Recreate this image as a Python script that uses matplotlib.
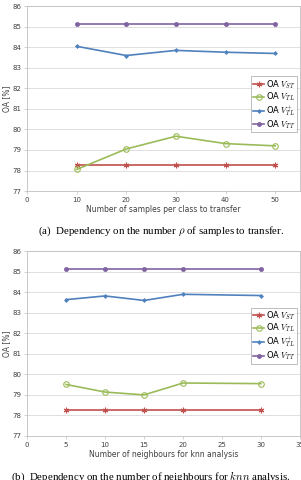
import matplotlib
matplotlib.use("Agg")
import matplotlib.pyplot as plt

plt.rcParams['mathtext.fontset'] = 'cm'

# Panel (a)
xa = [10, 20, 30, 40, 50]
a_vst = [78.27, 78.27, 78.27, 78.27, 78.27]
a_vtl = [78.05, 79.05, 79.67, 79.31, 79.2]
a_vtlp = [84.05, 83.6, 83.85, 83.76, 83.7]
a_vtt = [85.13, 85.13, 85.13, 85.13, 85.13]

# Panel (b)
xb = [5, 10, 15, 20, 30]
b_vst = [78.26, 78.26, 78.26, 78.26, 78.26]
b_vtl = [79.51, 79.14, 79.0, 79.58, 79.55]
b_vtlp = [83.64, 83.82, 83.6, 83.9, 83.84]
b_vtt = [85.13, 85.13, 85.13, 85.13, 85.13]

labels = ["OA $V_{ST}$", "OA $V_{TL}$", "OA $V_{TL}^{+}$", "OA $V_{TT}$"]
colors = ["#c0504d", "#9bbb59", "#4f81bd", "#8064a2"]
yticks = list(range(77, 87))

fig = plt.figure(figsize=(3.01, 4.80), dpi=100)

def panel(ax, x, series, xlim, xticks, xlabel, leg_anchor):
    styles = [
        dict(marker=(6, 2, 0), markersize=4, mew=0.8),
        dict(marker='o', markersize=4, mfc='none', mew=0.8),
        dict(marker='D', markersize=2, mew=0.5),
        dict(marker='o', markersize=3, mew=0.5),
    ]
    for s, lab, c, st in zip(series, labels, colors, styles):
        ax.plot(x, s, color=c, lw=1.2, label=lab, **st)
    ax.set_xlim(*xlim)
    ax.set_ylim(77, 86)
    ax.set_xticks(xticks)
    ax.set_yticks(yticks)
    ax.yaxis.grid(True, color='#d9d9d9', lw=0.6)
    ax.set_axisbelow(True)
    for sp in ax.spines.values():
        sp.set_color('#bfbfbf')
        sp.set_linewidth(0.6)
    ax.tick_params(labelsize=5, colors='#404040', length=2, width=0.5, pad=2)
    ax.tick_params(axis='both', color='#bfbfbf')
    ax.set_xlabel(xlabel, fontsize=5.5, color='#404040', labelpad=2)
    ax.set_ylabel("OA [%]", fontsize=5.5, color='#404040', labelpad=1)
    leg = ax.legend(loc='upper right', bbox_to_anchor=leg_anchor, fontsize=6,
                    frameon=True, fancybox=False, edgecolor='#a0a0a0',
                    handlelength=1.4, handletextpad=0.2, borderpad=0.2,
                    labelspacing=0.05, borderaxespad=0)
    leg.get_frame().set_linewidth(0.6)

ax1 = fig.add_axes([0.0897, 0.602, 0.907, 0.385])
panel(ax1, xa, [a_vst, a_vtl, a_vtlp, a_vtt], (0, 55), [0, 10, 20, 30, 40, 50],
      "Number of samples per class to transfer", (0.99, 0.62))

ax2 = fig.add_axes([0.0897, 0.0917, 0.907, 0.385])
panel(ax2, xb, [b_vst, b_vtl, b_vtlp, b_vtt], (0, 35), [0, 5, 10, 15, 20, 25, 30, 35],
      "Number of neighbours for knn analysis", (0.99, 0.695))

fig.text(0.535, 1 - 231 / 480, "(a)  Dependency on the number $\\rho$ of samples to transfer.",
         ha='center', va='center', fontsize=7.8, family='Liberation Serif')
fig.text(0.5, 1 - 477 / 480, "(b)  Dependency on the number of neighbours for $knn$ analysis.",
         ha='center', va='center', fontsize=7.8, family='Liberation Serif')

fig.savefig("out.png", dpi=100)
